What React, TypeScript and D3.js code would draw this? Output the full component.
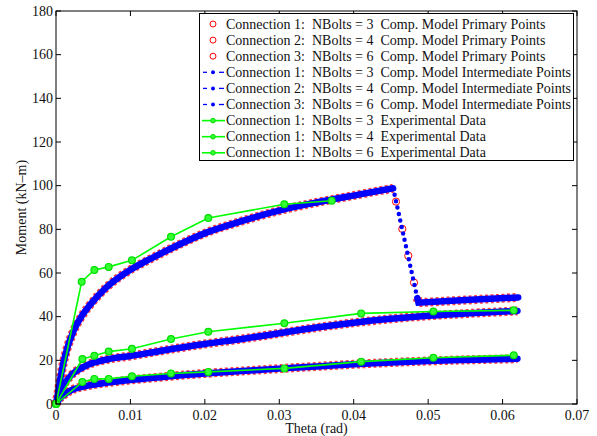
import React, { useEffect, useRef } from "react";
import * as d3 from "d3";

// 모델 곡선 (Comp. Model) — 그림에서 읽은 값
const thetaC1 = [0, 0.0005, 0.001, 0.002, 0.004, 0.007, 0.01, 0.014, 0.02, 0.025, 0.03, 0.035, 0.04, 0.045, 0.05, 0.055, 0.062];
const momentC1 = [0, 2.5, 4, 6.2, 8.2, 9.8, 11, 12.3, 14.0, 15.1, 16.2, 17.2, 18.2, 19.0, 19.7, 20.2, 20.7];

const thetaC2 = [0, 0.0005, 0.001, 0.002, 0.004, 0.007, 0.01, 0.014, 0.02, 0.025, 0.03, 0.035, 0.04, 0.045, 0.05, 0.055, 0.062];
const momentC2 = [0, 5, 8.5, 13, 17.5, 20.5, 22, 24.3, 27.5, 29.8, 32.4, 35, 37.2, 39, 40.4, 41.4, 42.6];

const thetaC3Rise = [0, 0.0003, 0.0006, 0.001, 0.0015, 0.0023, 0.0035, 0.0046, 0.0068, 0.01, 0.0126, 0.0158, 0.0202, 0.0247, 0.0305, 0.035, 0.0408, 0.0453];
const momentC3Rise = [0, 5.5, 12, 19, 25.5, 33, 40.5, 45.5, 53.5, 61.5, 66.3, 71.8, 78.5, 83.5, 89, 92.3, 96, 98.8];
const thetaC3Drop = [0.0453, 0.04855];
const momentC3Drop = [98.8, 48.5];
const thetaC3Post = [0.04855, 0.0487, 0.055, 0.0621];
const momentC3Post = [48.5, 46.4, 47.6, 48.8];
// 급락 구간의 primary points (빨간 원)
const thetaC3Primary = [0.04568, 0.04653, 0.04733, 0.0481];
const momentC3Primary = [92.7, 80.2, 67.9, 55.6];

// 실험 데이터
const thetaExp3 = [0, 0.00354, 0.00515, 0.00708, 0.0102, 0.01545, 0.02046, 0.03068, 0.041, 0.0507, 0.0615];
const momentExp3 = [0, 10.1, 11.5, 11.5, 12.7, 14.0, 14.7, 16.3, 19.4, 21.2, 22.3];
const thetaExp4 = [0, 0.00354, 0.00515, 0.00708, 0.0102, 0.01545, 0.02046, 0.03068, 0.041, 0.0507, 0.0615];
const momentExp4 = [0, 20.6, 22.1, 24.0, 25.3, 29.8, 33.1, 37.0, 41.5, 42.4, 42.9];
const thetaExp6 = [0, 0.00345, 0.00515, 0.00708, 0.0102, 0.01545, 0.02046, 0.03067, 0.03704];
const momentExp6 = [0, 56.0, 61.4, 62.8, 65.8, 76.6, 85.2, 91.5, 93.1];

const xTicks = [0, 0.01, 0.02, 0.03, 0.04, 0.05, 0.06, 0.07];
const yTicks = [0, 20, 40, 60, 80, 100, 120, 140, 160, 180];

const legendLabels = [
  "Connection 1:  NBolts = 3  Comp. Model Primary Points",
  "Connection 2:  NBolts = 4  Comp. Model Primary Points",
  "Connection 3:  NBolts = 6  Comp. Model Primary Points",
  "Connection 1:  NBolts = 3  Comp. Model Intermediate Points",
  "Connection 2:  NBolts = 4  Comp. Model Intermediate Points",
  "Connection 3:  NBolts = 6  Comp. Model Intermediate Points",
  "Connection 1:  NBolts = 3  Experimental Data",
  "Connection 1:  NBolts = 4  Experimental Data",
  "Connection 1:  NBolts = 6  Experimental Data",
];
const legendKinds = ["primary", "primary", "primary", "inter", "inter", "inter", "exp", "exp", "exp"];

const zip = (xs: number[], ys: number[]) => xs.map((x, i) => [x, ys[i]] as [number, number]);

const App = () => {
  const svgRef = useRef<SVGSVGElement>(null);

  useEffect(() => {
    const width = 597;
    const height = 436;
    const left = 56, right = 577, top = 11, bottom = 404;
    const font = "Liberation Serif, DejaVu Serif, serif";

    const svg = d3.select(svgRef.current);
    svg.selectAll("*").remove();
    svg.attr("width", width).attr("height", height);

    const x = d3.scaleLinear().domain([0, 0.07]).range([left, right]);
    const y = d3.scaleLinear().domain([0, 180]).range([bottom, top]);

    const smooth = d3.line<[number, number]>()
      .x((d) => x(d[0]))
      .y((d) => y(d[1]))
      .curve(d3.curveMonotoneX);
    const straight = d3.line<[number, number]>()
      .x((d) => x(d[0]))
      .y((d) => y(d[1]));

    svg.append("rect").attr("width", width).attr("height", height).attr("fill", "white");

    const plot = svg.append("g");

    // 모델 곡선: 빨간 원들이 촘촘히 겹쳐 보이는 띠 + 파란 점들
    const bands = [
      smooth(zip(thetaC1, momentC1)),
      smooth(zip(thetaC2, momentC2)),
      smooth(zip(thetaC3Rise, momentC3Rise)),
      straight(zip(thetaC3Post, momentC3Post)),
    ];
    bands.forEach((d) => {
      plot.append("path").attr("d", d).attr("fill", "none")
        .attr("stroke", "#ff2020").attr("stroke-width", 9)
        .attr("stroke-dasharray", "3 2.5").attr("stroke-linecap", "butt").attr("opacity", 0.85);
    });
    // 급락 구간 빨간 원
    zip(thetaC3Primary, momentC3Primary).forEach((p) => {
      plot.append("circle").attr("cx", x(p[0])).attr("cy", y(p[1])).attr("r", 3.6)
        .attr("fill", "none").attr("stroke", "#ff0000").attr("stroke-width", 1);
    });
    bands.forEach((d) => {
      plot.append("path").attr("d", d).attr("fill", "none")
        .attr("stroke", "#0000ff").attr("stroke-width", 6.5).attr("stroke-linecap", "round");
    });
    plot.append("path").attr("d", straight(zip(thetaC3Drop, momentC3Drop)))
      .attr("fill", "none").attr("stroke", "#0000ff").attr("stroke-width", 4.5)
      .attr("stroke-linecap", "round").attr("stroke-dasharray", "0 6.6");

    // 실험 데이터 (초록)
    [zip(thetaExp3, momentExp3), zip(thetaExp4, momentExp4), zip(thetaExp6, momentExp6)].forEach((pts) => {
      plot.append("path").attr("d", straight(pts)).attr("fill", "none")
        .attr("stroke", "#00ff00").attr("stroke-width", 1.6);
      plot.selectAll(null).data(pts).enter().append("circle")
        .attr("cx", (d) => x(d[0])).attr("cy", (d) => y(d[1])).attr("r", 3.4)
        .attr("fill", "#33ff33").attr("stroke", "#00dd00").attr("stroke-width", 1.2);
    });

    // 축 (MATLAB 스타일 박스, 안쪽 눈금)
    const axes = svg.append("g").attr("stroke", "black").attr("stroke-width", 1);
    axes.append("rect").attr("x", left).attr("y", top).attr("width", right - left)
      .attr("height", bottom - top).attr("fill", "none");
    xTicks.forEach((t) => {
      axes.append("line").attr("x1", x(t)).attr("x2", x(t)).attr("y1", bottom).attr("y2", bottom - 5);
      axes.append("line").attr("x1", x(t)).attr("x2", x(t)).attr("y1", top).attr("y2", top + 5);
    });
    yTicks.forEach((t) => {
      axes.append("line").attr("x1", left).attr("x2", left + 5).attr("y1", y(t)).attr("y2", y(t));
      axes.append("line").attr("x1", right).attr("x2", right - 5).attr("y1", y(t)).attr("y2", y(t));
    });

    const labels = svg.append("g").style("font-family", font).style("font-size", "14px").attr("fill", "#111");
    xTicks.forEach((t) => {
      labels.append("text").attr("x", x(t)).attr("y", bottom + 16).attr("text-anchor", "middle")
        .text(t === 0 ? "0" : d3.format(".2f")(t));
    });
    yTicks.forEach((t) => {
      labels.append("text").attr("x", left - 3).attr("y", y(t) + 4.5).attr("text-anchor", "end")
        .text(String(t));
    });
    labels.append("text").attr("x", (left + right) / 2).attr("y", bottom + 29)
      .attr("text-anchor", "middle").text("Theta (rad)");
    labels.append("text").attr("transform", `translate(26, ${(top + bottom) / 2}) rotate(-90)`)
      .attr("text-anchor", "middle").text("Moment (kN\u2013m)");

    // 범례
    const lg = svg.append("g");
    lg.append("rect").attr("x", 199.5).attr("y", 13.5).attr("width", 374).attr("height", 147)
      .attr("fill", "white").attr("stroke", "black").attr("stroke-width", 1);
    legendLabels.forEach((label, i) => {
      const cy = 24 + i * 16.1;
      const kind = legendKinds[i];
      if (kind === "primary") {
        lg.append("circle").attr("cx", 213).attr("cy", cy).attr("r", 3)
          .attr("fill", "none").attr("stroke", "#ff0000").attr("stroke-width", 1);
      } else if (kind === "inter") {
        lg.append("line").attr("x1", 203).attr("x2", 207).attr("y1", cy).attr("y2", cy)
          .attr("stroke", "#0000ff").attr("stroke-width", 1.3);
        lg.append("line").attr("x1", 219).attr("x2", 224).attr("y1", cy).attr("y2", cy)
          .attr("stroke", "#0000ff").attr("stroke-width", 1.3);
        lg.append("circle").attr("cx", 213).attr("cy", cy).attr("r", 2).attr("fill", "#0000ff");
      } else {
        lg.append("line").attr("x1", 202).attr("x2", 225).attr("y1", cy).attr("y2", cy)
          .attr("stroke", "#00ff00").attr("stroke-width", 1.6);
        lg.append("circle").attr("cx", 213).attr("cy", cy).attr("r", 2.3)
          .attr("fill", "#33ff33").attr("stroke", "#00dd00").attr("stroke-width", 1);
      }
      lg.append("text").attr("x", 226).attr("y", cy + 4.5)
        .style("font-family", font).style("font-size", "14px").attr("fill", "#111")
        .style("white-space", "pre").text(label);
    });
  }, []);

  return <svg ref={svgRef} style={{ position: "absolute", left: 0, top: 0 }} />;
};

export default App;
